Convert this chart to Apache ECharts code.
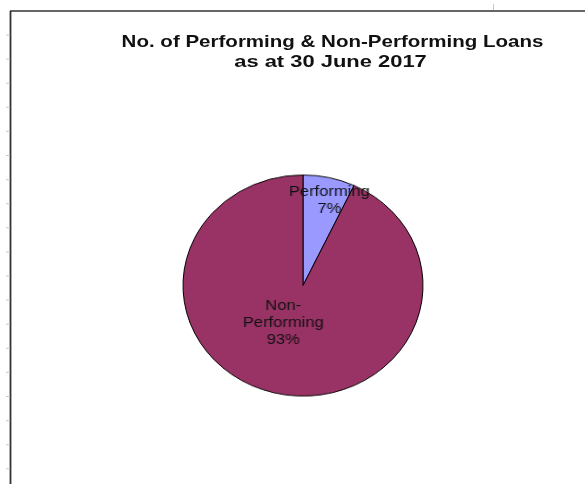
<!DOCTYPE html>
<html><head><meta charset="utf-8">
<script src="https://cdn.jsdelivr.net/npm/echarts@6/dist/echarts.min.js"></script>
<style>html,body{margin:0;padding:0;background:#fff;}#wrap{position:relative;width:585px;height:484px;overflow:hidden;}
#pie{position:absolute;left:0;top:0;width:585px;height:484px;transform-origin:303px 285.5px;transform:scaleY(0.921);}
#lab{position:absolute;left:0;top:0;width:585px;height:484px;transform-origin:303px 285.5px;transform:scaleX(1.18);}
#main{position:absolute;left:0;top:0;width:585px;height:484px;}</style>
</head><body>
<div id="wrap"><div id="pie"></div><div id="lab"></div><div id="main"></div></div>
<script>
const titleLines = ['No. of Performing & Non-Performing Loans', 'as at 30 June 2017'];
const categories = ['Performing', 'Non-\nPerforming'];
const values = [7, 93];
const colors = ['#9999FF', '#993366'];
const labelOffsets = [[8.5, -23.5], [-3, -23.5]];

const FONT = 'Liberation Sans, Arial, sans-serif';
const pieBase = { type: 'pie', center: [303, 285.5], radius: 120, startAngle: 90, clockwise: true, emphasis: { disabled: true } };

const pieChart = echarts.init(document.getElementById('pie'), null, { renderer: 'canvas' });
pieChart.setOption({
  animation: false,
  series: [Object.assign({}, pieBase, {
    label: { show: false }, labelLine: { show: false },
    itemStyle: { borderColor: '#000', borderWidth: 1 },
    data: categories.map((c, i) => ({ name: c, value: values[i], itemStyle: { color: colors[i] } }))
  })]
});

const labChart = echarts.init(document.getElementById('lab'), null, { renderer: 'canvas' });
labChart.setOption({
  animation: false,
  series: [Object.assign({}, pieBase, {
    silent: true,
    itemStyle: { color: 'rgba(0,0,0,0)', borderWidth: 0 },
    labelLine: { show: false },
    label: {
      show: true, position: 'inside', formatter: p => p.name + '\n' + p.value + '%',
      fontFamily: FONT, fontSize: 14, color: '#111', lineHeight: 17, align: 'center'
    },
    data: categories.map((c, i) => ({ name: c, value: values[i], label: { offset: labelOffsets[i] } }))
  })]
});

const ticks = [];
for (let k = 0; k < 19; k++) {
  const y = 35 + k * 24.1;
  ticks.push({ type: 'line', shape: { x1: 6, y1: y, x2: 10, y2: y }, style: { stroke: '#c8c8c8', lineWidth: 1 } });
}
const titleX = [332.5, 330.5];
const titleScale = [1.207, 1.29];
const titleEls = titleLines.map((t, i) => ({
  type: 'text', x: titleX[i], y: 42.5 + i * 19.5, scaleX: titleScale[i],
  style: { text: t, fontFamily: FONT, fontWeight: 'bold', fontSize: 17, fill: '#111', align: 'center', verticalAlign: 'middle' }
}));
const main = echarts.init(document.getElementById('main'), null, { renderer: 'canvas' });
main.setOption({
  animation: false,
  graphic: [
    { type: 'line', shape: { x1: 10, y1: 11, x2: 585, y2: 11 }, style: { stroke: '#333', lineWidth: 1.5 } },
    { type: 'line', shape: { x1: 10.5, y1: 11, x2: 10.5, y2: 484 }, style: { stroke: '#333', lineWidth: 1.8 } },
    { type: 'line', shape: { x1: 493.5, y1: 4, x2: 493.5, y2: 10 }, style: { stroke: '#c8c8c8', lineWidth: 1 } }
  ].concat(ticks).concat(titleEls)
});
</script>
</body></html>
